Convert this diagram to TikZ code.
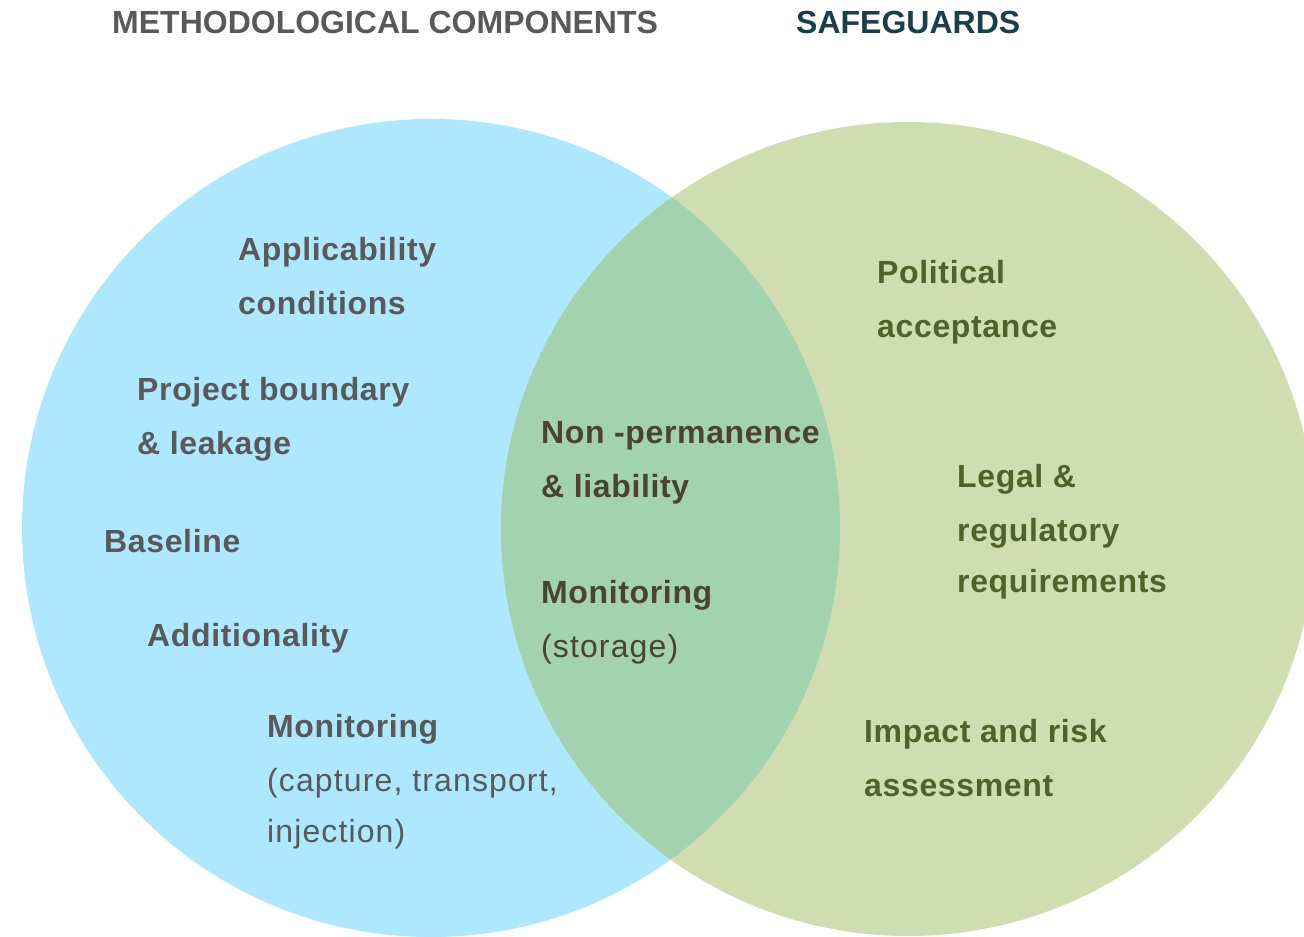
\documentclass[tikz,border=0pt]{standalone}
\usepackage{fontspec}
\setmainfont{Liberation Sans}
% slightly tracked faces for the set labels
\newfontfamily\itemfont[LetterSpace=2]{Liberation Sans}
\newfontfamily\notefont[LetterSpace=3.5]{Liberation Sans}
\definecolor{Sky}{HTML}{ADE8FE}
\definecolor{Sage}{HTML}{CFDDB0}
\definecolor{Overlap}{HTML}{A3D2AE}
\definecolor{Slate}{HTML}{595959}
\definecolor{Bark}{HTML}{4B4330}
\definecolor{Olive}{HTML}{4F6228}
\definecolor{Teal}{HTML}{1B3F4A}

\begin{document}
\begin{tikzpicture}[
  x=1pt,y=-1pt,
  head/.style={anchor=north west,inner sep=0pt,font=\fontsize{32}{38}\selectfont\bfseries},
  item/.style={anchor=north west,inner sep=0pt,align=left,font=\itemfont\fontsize{32}{54.5}\selectfont\bfseries},
  method/.style={item,text=Slate},
  shared/.style={item,text=Bark},
  guard/.style={item,text=Olive}
]
\useasboundingbox (0,0) rectangle (1304,937);
% the two sets and their overlap
\fill[Sky] (431,528) circle[radius=409];
\fill[Sage] (908,529) circle[radius=407];
\begin{scope}
  \clip (431,528) circle[radius=409];
  \fill[Overlap] (908,529) circle[radius=407];
\end{scope}

\node[head,text=Slate] (methodhead) at (112,11) {METHODOLOGICAL COMPONENTS};
\node[head,text=Teal] (guardhead) at (796,11) {SAFEGUARDS};

\node[method] (applic) at (238,237) {Applicability\\conditions};
\node[method] (boundary) at (137,377) {Project boundary\\\& leakage};
\node[method] (baseline) at (104,529) {Baseline};
\node[method] (addit) at (147,623) {Additionality};
\node[method] (montrans) at (267,714) {Monitoring\\\notefont\mdseries(capture, transport,\\[-4pt]\notefont\mdseries injection)};

\node[shared] (perm) at (541,421) {Non -permanence\\\& liability};
\node[shared] (monstore) at (541,580) {Monitoring\\\notefont\mdseries(storage)};

\node[guard] (politic) at (877,260) {Political\\acceptance};
\node[guard] (legal) at (957,464) {Legal \&\\regulatory\\[-4pt]requirements};
\node[guard] (impact) at (864,719) {Impact and risk\\assessment};
\end{tikzpicture}
\end{document}
